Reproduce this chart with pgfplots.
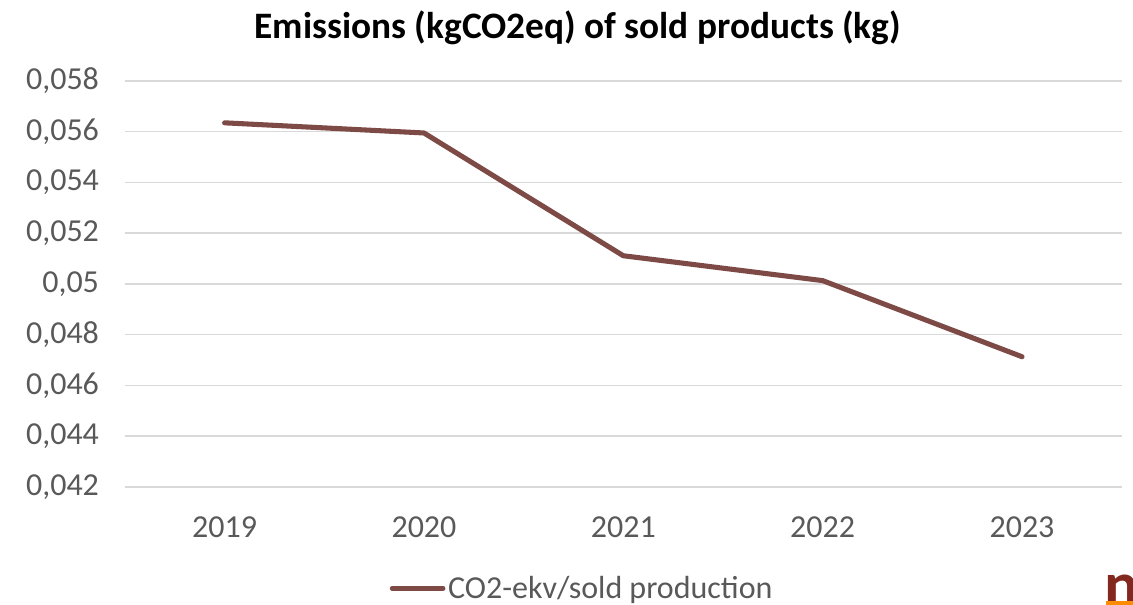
\documentclass[border=0pt]{standalone}
\usepackage{pgfplots}
\pgfplotsset{compat=1.18}
\usepackage{fontspec}
\setmainfont{Carlito}
\definecolor{linec}{RGB}{126,74,69}
\definecolor{gridc}{RGB}{217,217,217}
\definecolor{txt}{RGB}{89,89,89}
\begin{document}
\begin{tikzpicture}
\path[use as bounding box] (-93.75pt,-88.5pt) rectangle (756.25pt,365.25pt);
\clip (-93.75pt,-88.5pt) rectangle (756.25pt,365.25pt);
\begin{axis}[
  scale only axis,
  width=747.75pt, height=304.5pt,
  xmin=-0.5, xmax=4.5,
  ymin=0.042, ymax=0.058,
  scaled y ticks=false,
  xtick={0,1,2,3,4},
  xticklabels={2019,2020,2021,2022,2023},
  ytick={0.042,0.044,0.046,0.048,0.05,0.052,0.054,0.056,0.058},
  yticklabels={{0,042},{0,044},{0,046},{0,048},{0,05},{0,052},{0,054},{0,056},{0,058}},
  axis line style={draw=none},
  major tick length=0pt,
  ymajorgrids,
  grid style={gridc, line width=1.1pt},
  tick label style={font=\fontsize{24}{28}\selectfont, text=txt},
  yticklabel style={xshift=-16pt},
  xticklabel style={yshift=-19pt},
  legend style={at={(0.459,-0.250)}, anchor=center, draw=none, fill=none,
    font=\fontsize{24}{28}\selectfont, text=txt, inner sep=0pt},
  legend image code/.code={\draw[#1, line cap=round] (0pt,0pt) -- (38pt,0pt);},
  legend cell align=left,
]
\addplot[linec, line width=3.8pt, line join=round, line cap=round] coordinates {
  (0,0.05635) (1,0.05595) (2,0.05111) (3,0.05013) (4,0.04713)
};
\addlegendentry{CO2-ekv/sold production}
\end{axis}
\node[font=\fontsize{28}{32}\selectfont\bfseries, anchor=center] at (339.75pt,344.25pt) {Emissions (kgCO2eq) of sold products (kg)};
\node[font=\fontsize{48}{50}\selectfont\bfseries, text={rgb,255:red,130;green,40;blue,30}, anchor=west, inner sep=0pt] at (735pt,-78pt) {n};
\fill[orange!90!yellow] (736pt,-88.5pt) rectangle (760pt,-86pt);
\end{tikzpicture}
\end{document}
